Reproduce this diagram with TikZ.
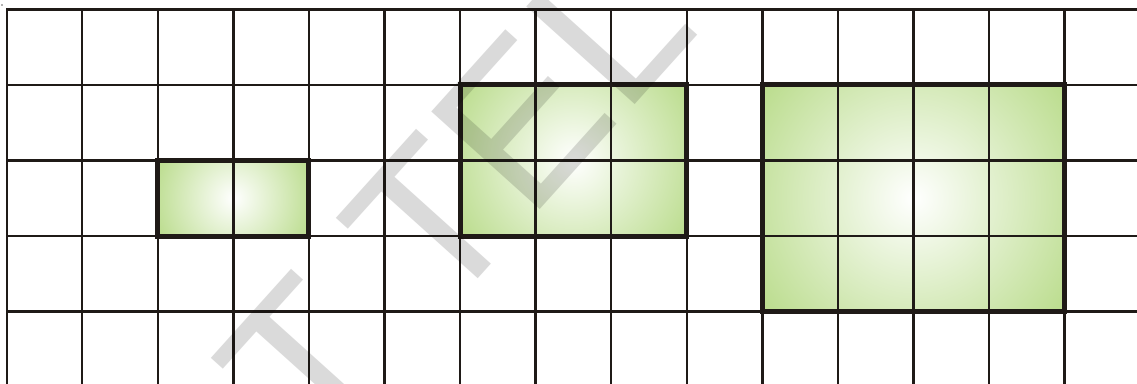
\documentclass[tikz,border=0pt]{standalone}
\usepackage{fontspec}
\newfontfamily\wmfont{Liberation Sans}
\definecolor{ink}{HTML}{1F1A17}
\definecolor{leaf}{RGB}{186,220,140}
\definecolor{wm}{RGB}{218,218,218}
\usetikzlibrary{calc}
\def\s{75.57}
\def\xo{6.7}
\def\yo{9.3}
\newcommand\greenbox[4]{%
  \pgfmathsetmacro\gxa{\xo+#1*\s}%
  \pgfmathsetmacro\gya{\yo+#2*\s}%
  \pgfmathsetmacro\gxb{\xo+#3*\s}%
  \pgfmathsetmacro\gyb{\yo+#4*\s}%
  \pgfmathsetmacro\gxc{(\gxa+\gxb)/2}%
  \pgfmathsetmacro\gyc{(\gya+\gyb)/2}%
  \pgfmathsetmacro\grad{0.5*veclen(\gxb-\gxa,\gyb-\gya)}%
  \begin{scope}
    \clip (\gxa,\gya) rectangle (\gxb,\gyb);
    \shade[inner color=white, outer color=leaf] (\gxc,\gyc) circle[radius=\grad pt];
  \end{scope}
}
\newcommand\myframe[4]{%
  \draw[frameline] ({\xo+#1*\s},{\yo+#2*\s}) rectangle ({\xo+#3*\s},{\yo+#4*\s});
}
\begin{document}
\begin{tikzpicture}[x=1pt,y=-1pt,
  gridline/.style={draw=ink,line width=2.4pt,line cap=rect},
  frameline/.style={draw=ink,line width=5pt,line join=miter},
  wmtext/.style={font=\wmfont\fontsize{212}{212}\selectfont,text=wm,inner sep=0pt,outer sep=0pt}]
\useasboundingbox (0,0) rectangle (1137,383);
\fill[white] (0,0) rectangle (1137,383);
% shaded areas
\greenbox{2}{2}{4}{3}
\greenbox{6}{1}{9}{3}
\greenbox{10}{1}{14}{4}
% grid
\foreach \i in {0,...,14} {
  \draw[gridline] ({\xo+\i*\s},\yo) -- ({\xo+\i*\s},386);
}
\foreach \j in {0,...,4} {
  \draw[gridline] (\xo,{\yo+\j*\s}) -- (1140,{\yo+\j*\s});
}
% thick frames
\myframe{2}{2}{4}{3}
\myframe{6}{1}{9}{3}
\myframe{10}{1}{14}{4}
% small mark
\fill[gray!60] (1,4) rectangle (3,6);
% watermark
\begin{scope}[blend mode=multiply]
  \node[wmtext, rotate=48, anchor=base west] (wm) at (316,459) {T TEL};
\end{scope}
\end{tikzpicture}
\end{document}
